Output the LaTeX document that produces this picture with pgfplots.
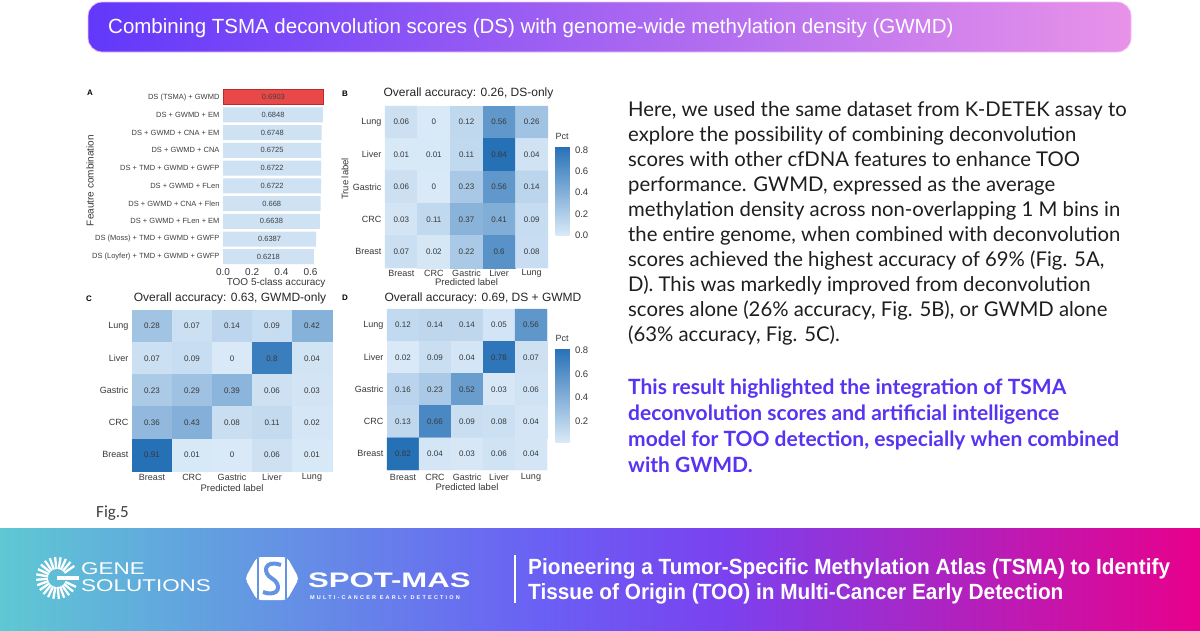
\documentclass[border=0pt]{standalone}
\usepackage{fontspec}
\setmainfont{Liberation Sans}
\newfontfamily\lato{Lato}
\newfontfamily\carl{Carlito}
\newfontfamily\narrowf[FakeStretch=0.945]{Liberation Sans}
\newfontfamily\widef[FakeStretch=1.32]{Liberation Sans}
\newfontfamily\spotf[FakeStretch=1.48]{Liberation Sans}
\newfontfamily\spacedf[LetterSpace=40]{Liberation Sans}
\usepackage{pgfplots}
\usepackage{pgfplotstable}
\pgfplotsset{compat=1.18, /pgf/number format/assume math mode=true}

\definecolor{barblue}{RGB}{207,226,243}
\definecolor{barred}{RGB}{233,72,72}
\definecolor{barredd}{RGB}{190,40,40}
\definecolor{bannerL}{RGB}{98,56,250}
\definecolor{bannerR}{RGB}{232,146,233}
\definecolor{bandA}{RGB}{94,200,211}
\definecolor{bandB}{RGB}{106,96,244}
\definecolor{bandC}{RGB}{122,66,240}
\definecolor{bandD}{RGB}{232,0,140}
\definecolor{logoS}{RGB}{100,147,228}
\definecolor{purp}{RGB}{88,52,242}
\definecolor{txt}{RGB}{30,30,30}

\pgfdeclarehorizontalshading{band}{100bp}{color(0bp)=(bandA); color(25bp)=(bandA); color(47.5bp)=(bandB); color(55bp)=(bandC); color(75bp)=(bandD); color(100bp)=(bandD)}

\pgfplotsset{
  colormap={bl}{rgb255=(217,233,247) rgb255=(38,112,182)},
  heat/.style={scale only axis, enlargelimits=false,
    xmin=-0.5, xmax=4.5, ymin=-0.5, ymax=4.5, y dir=reverse,
    xtick={0,...,4}, ytick={0,...,4},
    xticklabels={Breast,CRC,Gastric,Liver,Lung},
    yticklabels={Lung,Liver,Gastric,CRC,Breast},
    axis line style={draw=none}, major tick length=0pt,
    colormap name=bl,
    ticklabel style={font=\fontsize{9}{10}\selectfont, text=black!78},
    xlabel={Predicted label},
    label style={font=\fontsize{9.5}{11}\selectfont, text=black!78},
    title style={font=\fontsize{12}{14}\selectfont, text=black!85},
    clip=false},
  cellnum/.style={draw=none, nodes near coords, point meta=explicit symbolic,
    nodes near coords style={anchor=center, font=\fontsize{8}{9}\selectfont, text=black!78}},
  cbar/.style={scale only axis, width=14pt, axis line style={draw=none},
    major tick length=0pt,
    yticklabel style={font=\fontsize{9.5}{10}\selectfont, text=black!78, xshift=2pt,
      /pgf/number format/.cd, fixed, fixed zerofill, precision=1},
    title={Pct},
    title style={at={(0,1)}, anchor=south west, font=\fontsize{9}{10}\selectfont, text=black!78, inner sep=0pt}},
}

% panel A
\pgfplotstableread{
i v
1 0.6903
2 0.6848
3 0.6748
4 0.6725
5 0.6722
6 0.6722
7 0.668
8 0.6638
9 0.6387
10 0.6218
}\datA

% confusion matrices, rows top to bottom: Lung Liver Gastric CRC Breast
\pgfplotstableread{
x y c
0 0 0.06
1 0 0
2 0 0.12
3 0 0.56
4 0 0.26
0 1 0.01
1 1 0.01
2 1 0.11
3 1 0.84
4 1 0.04
0 2 0.06
1 2 0
2 2 0.23
3 2 0.56
4 2 0.14
0 3 0.03
1 3 0.11
2 3 0.37
3 3 0.41
4 3 0.09
0 4 0.07
1 4 0.02
2 4 0.22
3 4 0.6
4 4 0.08
}\datB

\pgfplotstableread{
x y c
0 0 0.28
1 0 0.07
2 0 0.14
3 0 0.09
4 0 0.42
0 1 0.07
1 1 0.09
2 1 0
3 1 0.8
4 1 0.04
0 2 0.23
1 2 0.29
2 2 0.39
3 2 0.06
4 2 0.03
0 3 0.36
1 3 0.43
2 3 0.08
3 3 0.11
4 3 0.02
0 4 0.91
1 4 0.01
2 4 0
3 4 0.06
4 4 0.01
}\datC

\pgfplotstableread{
x y c
0 0 0.12
1 0 0.14
2 0 0.14
3 0 0.05
4 0 0.56
0 1 0.02
1 1 0.09
2 1 0.04
3 1 0.78
4 1 0.07
0 2 0.16
1 2 0.23
2 2 0.52
3 2 0.03
4 2 0.06
0 3 0.13
1 3 0.66
2 3 0.09
3 3 0.08
4 3 0.04
0 4 0.82
1 4 0.04
2 4 0.03
3 4 0.06
4 4 0.04
}\datD

\begin{document}
\begin{tikzpicture}[x=1pt,y=-1pt]
\useasboundingbox (0,0) rectangle (1200,630);
\fill[white] (0,0) rectangle (1200,630);

% header banner
\shade[left color=bannerL, right color=bannerR, rounded corners=14pt] (88,2) rectangle (1131,52);
\draw[bannerR!60!white, line width=0.8pt, rounded corners=14pt] (88,2) rectangle (1131,52);
\node[anchor=west, inner sep=0pt, text=white, font=\fontsize{20.5}{22}\selectfont] at (108,28)
  {Combining TSMA deconvolution scores (DS) with genome-wide methylation density (GWMD)};

% panel letters
\node[font=\bfseries\fontsize{8}{9}\selectfont] at (90,93) {A};
\node[font=\bfseries\fontsize{8}{9}\selectfont] at (345,94) {B};
\node[font=\bfseries\fontsize{8}{9}\selectfont] at (89,299) {C};
\node[font=\bfseries\fontsize{8}{9}\selectfont] at (345,298) {D};

% A: feature combinations
\begin{axis}[at={(223pt,-88.3pt)}, anchor=north west, scale only axis,
  width=102.2pt, height=177.3pt,
  xmin=0, xmax=0.7, ymin=0.5, ymax=10.5, y dir=reverse,
  axis line style={draw=none}, major tick length=0pt, clip=false,
  xtick={0,0.2,0.4,0.6},
  xticklabel style={anchor=center, yshift=-6pt, font=\fontsize{10}{11}\selectfont, text=black!78,
    /pgf/number format/.cd, fixed, fixed zerofill, precision=1},
  ytick={1,...,10},
  yticklabels={DS (TSMA) + GWMD, DS + GWMD + EM, DS + GWMD + CNA + EM, DS + GWMD + CNA,
    DS + TMD + GWMD + GWFP, DS + GWMD + FLen, DS + GWMD + CNA + Flen, DS + GWMD + FLen + EM,
    DS (Moss) + TMD + GWMD + GWFP, DS (Loyfer) + TMD + GWMD + GWFP},
  yticklabel style={font=\fontsize{7.5}{8}\selectfont, text=black!75},
  xlabel={TOO 5-class accuracy},
  xlabel style={at={(axis description cs:0.52,-0.095)}, anchor=center, font=\fontsize{10}{11}\selectfont, text=black!78},
  ylabel={Feautre combination},
  ylabel style={at={(axis description cs:-1.30,0.48)}, anchor=center, font=\fontsize{10}{11}\selectfont, text=black!78},
]
\addplot[xbar, bar shift=0pt, bar width=15pt, fill=barblue, draw=none] table[x=v, y=i] {\datA};
\addplot[xbar, bar shift=0pt, bar width=15pt, fill=barred, draw=barredd, line width=0.6pt] coordinates {(0.6903,1)};
\addplot[draw=none, nodes near coords, point meta=explicit symbolic,
  nodes near coords style={anchor=center, font=\fontsize{7.5}{8}\selectfont, text=black!75}]
  table[x expr=\thisrow{v}/2, y=i, meta=v] {\datA};
\end{axis}

% B: DS-only
\begin{axis}[heat, at={(385pt,-106pt)}, anchor=north west, width=163pt, height=162pt,
  point meta min=0, point meta max=0.84,
  title={Overall accuracy: 0.26, DS-only},
  title style={at={(axis description cs:0.5,1)}, anchor=center, yshift=7pt, xshift=2pt},
  xticklabel style={anchor=center, yshift=-5pt},
  xlabel style={at={(axis description cs:0.5,0)}, anchor=center, yshift=-14pt},
  ylabel={True label},
  ylabel style={at={(axis description cs:-0.245,0.55)}, anchor=center},
  colorbar,
  colorbar style={cbar, at={(parent axis.north east)}, anchor=north west,
    xshift=-1pt, yshift=-40pt, height=89pt, ytick={0,0.2,0.4,0.6,0.8}},
]
\addplot[matrix plot*, mesh/cols=5, point meta=explicit] table[x=x, y=y, meta=c] {\datB};
\addplot[cellnum] table[x=x, y=y, meta=c] {\datB};
\end{axis}

% C: GWMD-only
\begin{axis}[heat, at={(132pt,-310pt)}, anchor=north west, width=200pt, height=161pt,
  point meta min=0, point meta max=0.91,
  title={Overall accuracy: 0.63, GWMD-only},
  title style={at={(axis description cs:0.5,1)}, anchor=center, yshift=6pt, xshift=-2pt},
  xticklabel style={anchor=center, yshift=-6.5pt},
  xlabel style={at={(axis description cs:0.5,0)}, anchor=center, yshift=-17pt},
]
\addplot[matrix plot*, mesh/cols=5, point meta=explicit] table[x=x, y=y, meta=c] {\datC};
\addplot[cellnum] table[x=x, y=y, meta=c] {\datC};
\end{axis}

% D: DS + GWMD
\begin{axis}[heat, at={(387pt,-309pt)}, anchor=north west, width=160pt, height=161pt,
  point meta min=0.02, point meta max=0.82,
  title={Overall accuracy: 0.69, DS + GWMD},
  title style={at={(axis description cs:0.5,1)}, anchor=center, yshift=5pt, xshift=16pt},
  xticklabel style={anchor=center, yshift=-7.5pt},
  xlabel style={at={(axis description cs:0.5,0)}, anchor=center, yshift=-17pt},
  colorbar,
  colorbar style={cbar, at={(parent axis.north east)}, anchor=north west,
    xshift=0pt, yshift=-39pt, height=94pt, ytick={0.2,0.4,0.6,0.8}},
]
\addplot[matrix plot*, mesh/cols=5, point meta=explicit] table[x=x, y=y, meta=c] {\datD};
\addplot[cellnum] table[x=x, y=y, meta=c] {\datD};
\end{axis}

\node[anchor=west, inner sep=0pt, font=\carl\fontsize{17}{18}\selectfont, text=black!75] at (96,513) {Fig.5};

% text on the right
\begin{scope}[every node/.style={anchor=base west, inner sep=0pt, font=\lato\fontsize{20.3}{24}\selectfont, text=txt}]
\node at (628,116.5) {Here, we used the same dataset from K-DETEK assay to};
\node at (628,141.5) {explore the possibility of combining deconvolution};
\node at (628,166.5) {scores with other cfDNA features to enhance TOO};
\node at (628,191.5) {performance. GWMD, expressed as the average};
\node at (628,216.5) {methylation density across non-overlapping 1 M bins in};
\node at (628,241.5) {the entire genome, when combined with deconvolution};
\node at (628,266.5) {scores achieved the highest accuracy of 69\% (Fig. 5A,};
\node at (628,291.5) {D). This was markedly improved from deconvolution};
\node at (628,316.5) {scores alone (26\% accuracy, Fig. 5B), or GWMD alone};
\node at (628,341.5) {(63\% accuracy, Fig. 5C).};
\end{scope}
\begin{scope}[every node/.style={anchor=base west, inner sep=0pt, font=\lato\bfseries\fontsize{21}{24}\selectfont, text=purp}]
\node at (628,394) {This result highlighted the integration of TSMA};
\node at (628,420) {deconvolution scores and artificial intelligence};
\node at (628,446) {model for TOO detection, especially when combined};
\node at (628,472) {with GWMD.};
\end{scope}

% footer band
\shade[shading=band] (0,528) rectangle (1200,630);
\foreach \a in {25,40,...,325}
  \draw[white, line width=2.3pt, shift={(57,578)}] (\a:9) -- (\a:21);
\fill[white] (57,575.6) rectangle (79,580.4);
\node[anchor=base west, inner sep=0pt, text=white, font=\widef\fontsize{17}{18}\selectfont] at (81,574) {GENE};
\node[anchor=base west, inner sep=0pt, text=white, font=\widef\fontsize{17}{18}\selectfont] at (81,591) {SOLUTIONS};
\fill[white, rounded corners=4pt] (257,557)--(287,557)--(299,578.5)--(287,600)--(257,600)--(245,578.5)--cycle;
\draw[logoS, line width=2.5pt] (258,558)--(258,599);
\draw[logoS, line width=2.5pt] (286,558)--(286,599);
\draw[logoS, line width=4pt] (281,565) .. controls (264,559) and (262,573) .. (272,578.5) .. controls (282,584) and (280,598) .. (263,592);
\node[anchor=base west, inner sep=0pt, text=white, font=\spotf\bfseries\fontsize{21}{22}\selectfont] at (308,587) {SPOT-MAS};
\node[anchor=base west, inner sep=0pt, text=white, font=\spacedf\bfseries\fontsize{5.5}{6}\selectfont] at (310,599) {MULTI-CANCER EARLY DETECTION};
\draw[white, line width=1.5pt] (515,555) -- (515,603);
\node[anchor=base west, inner sep=0pt, text=white, font=\narrowf\bfseries\fontsize{22}{24}\selectfont] at (528,574) {Pioneering a Tumor-Specific Methylation Atlas (TSMA) to Identify};
\node[anchor=base west, inner sep=0pt, text=white, font=\narrowf\bfseries\fontsize{22}{24}\selectfont] at (528,599) {Tissue of Origin (TOO) in Multi-Cancer Early Detection};
\end{tikzpicture}
\end{document}
